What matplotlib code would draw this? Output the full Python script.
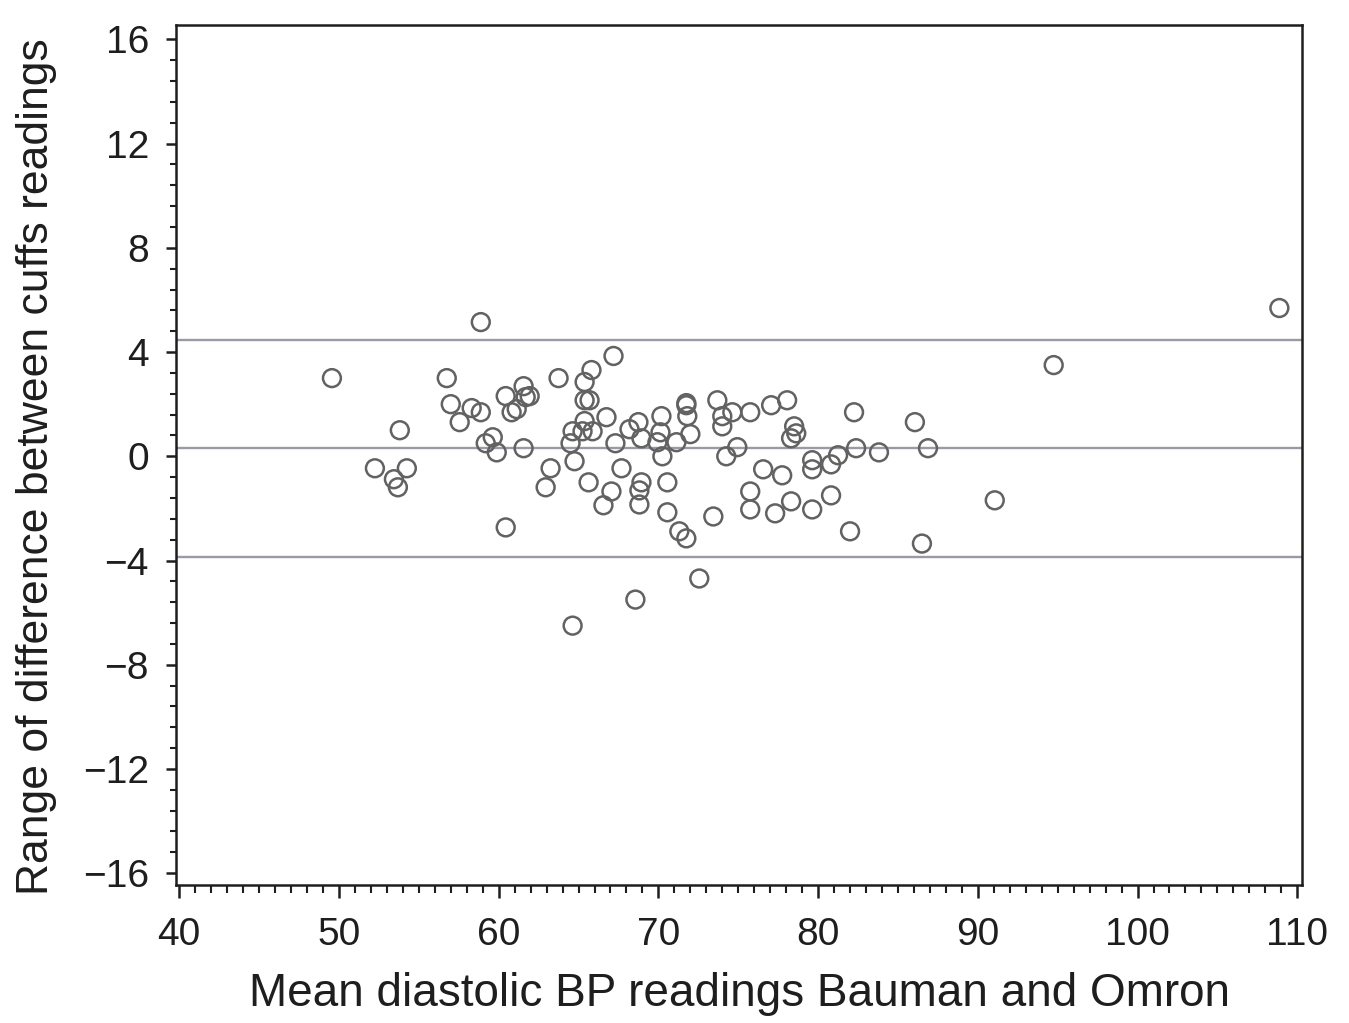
import matplotlib
matplotlib.use('Agg')
import matplotlib.pyplot as plt
from matplotlib.ticker import MultipleLocator

plt.rcParams['font.family'] = ['Liberation Sans', 'DejaVu Sans']

# mean diastolic BP (x) and difference between cuffs (y)
mean_bp = [49.56, 58.88, 108.88, 94.75, 52.25, 53.44, 53.69, 53.81, 54.25, 56.75,
           57.0, 57.56, 58.31, 58.88, 59.19, 59.63, 59.88, 60.44, 60.44, 60.81,
           61.13, 61.56, 61.56, 61.69, 61.94, 62.94, 63.25, 63.75, 64.5, 64.63,
           64.75, 64.63, 65.25, 65.38, 65.38, 65.38, 65.63, 65.81, 65.69, 65.88,
           66.56, 66.75, 67.19, 67.06, 67.31, 67.69, 68.19, 68.75, 68.56, 68.81,
           68.94, 68.81, 68.94, 69.94, 70.19, 70.13, 70.25, 70.56, 70.56, 71.13,
           71.31, 71.75, 71.75, 71.75, 71.81, 72.0, 72.56, 73.44, 73.69, 74.0,
           74.0, 74.25, 74.63, 74.94, 75.75, 75.75, 75.75, 76.56, 77.06, 77.31,
           77.75, 78.06, 78.31, 78.31, 78.5, 78.63, 79.63, 79.63, 79.63, 80.81,
           80.81, 81.25, 82.0, 82.25, 82.38, 83.81, 86.06, 86.5, 86.88, 91.06]
diff = [3.0, 5.15, 5.69, 3.5, -0.46, -0.88, -1.19, 1.0, -0.46, 3.0,
        2.0, 1.31, 1.85, 1.69, 0.5, 0.73, 0.15, 2.31, -2.73, 1.69,
        1.81, 0.31, 2.69, 2.27, 2.31, -1.19, -0.46, 3.0, 0.5, 0.96,
        -0.19, -6.5, 0.96, 1.35, 2.85, 2.15, -1.0, 3.31, 2.15, 0.96,
        -1.88, 1.5, 3.85, -1.35, 0.5, -0.46, 1.04, 1.31, -5.5, -1.31,
        -1.0, -1.85, 0.69, 0.54, 1.54, 0.92, 0.0, -1.0, -2.15, 0.54,
        -2.88, -3.15, 2.04, 1.96, 1.54, 0.85, -4.69, -2.31, 2.15, 1.54,
        1.15, 0.0, 1.69, 0.35, 1.69, -1.35, -2.04, -0.5, 1.96, -2.19,
        -0.73, 2.15, -1.73, 0.69, 1.15, 0.88, -2.04, -0.5, -0.15, -0.31,
        -1.5, 0.04, -2.88, 1.69, 0.31, 0.15, 1.31, -3.35, 0.31, -1.69]

# mean difference and limits of agreement
ref_lines = [4.45, 0.3, -3.85]

fig = plt.figure(figsize=(13.49, 10.23), dpi=100)
ax = fig.add_axes([0.1305, 0.135, 0.8347, 0.8405])

for yv in ref_lines:
    ax.axhline(yv, color='#9a9aa6', lw=1.7, zorder=1)

ax.scatter(mean_bp, diff, s=165, facecolors='none', edgecolors='#626262',
           linewidths=1.8, zorder=2)

ax.set_xlim(39.8, 110.3)
ax.set_ylim(-16.45, 16.55)
ax.xaxis.set_major_locator(MultipleLocator(10))
ax.xaxis.set_minor_locator(MultipleLocator(1))
ax.yaxis.set_major_locator(MultipleLocator(4))
ax.yaxis.set_minor_locator(MultipleLocator(0.8))

for s in ax.spines.values():
    s.set_linewidth(1.8)
    s.set_color('#1e1e1e')
ax.tick_params(which='major', width=1.8, labelsize=28,
               color='#1e1e1e', labelcolor='#1e1e1e')
ax.tick_params(axis='x', which='major', length=9, pad=14)
ax.tick_params(axis='y', which='major', length=7.5, pad=12)
ax.tick_params(axis='x', which='minor', length=5.5, width=1.5, color='#1e1e1e')
ax.tick_params(axis='y', which='minor', length=4.5, width=1.5, color='#1e1e1e')

ax.set_xlabel('Mean diastolic BP readings Bauman and Omron', fontsize=33,
              labelpad=14, color='#1e1e1e')
ax.set_ylabel('Range of difference between cuffs readings', fontsize=32,
              color='#1e1e1e')
ax.yaxis.set_label_coords(-0.106, 0.486)

fig.savefig('out.png', dpi=100)
